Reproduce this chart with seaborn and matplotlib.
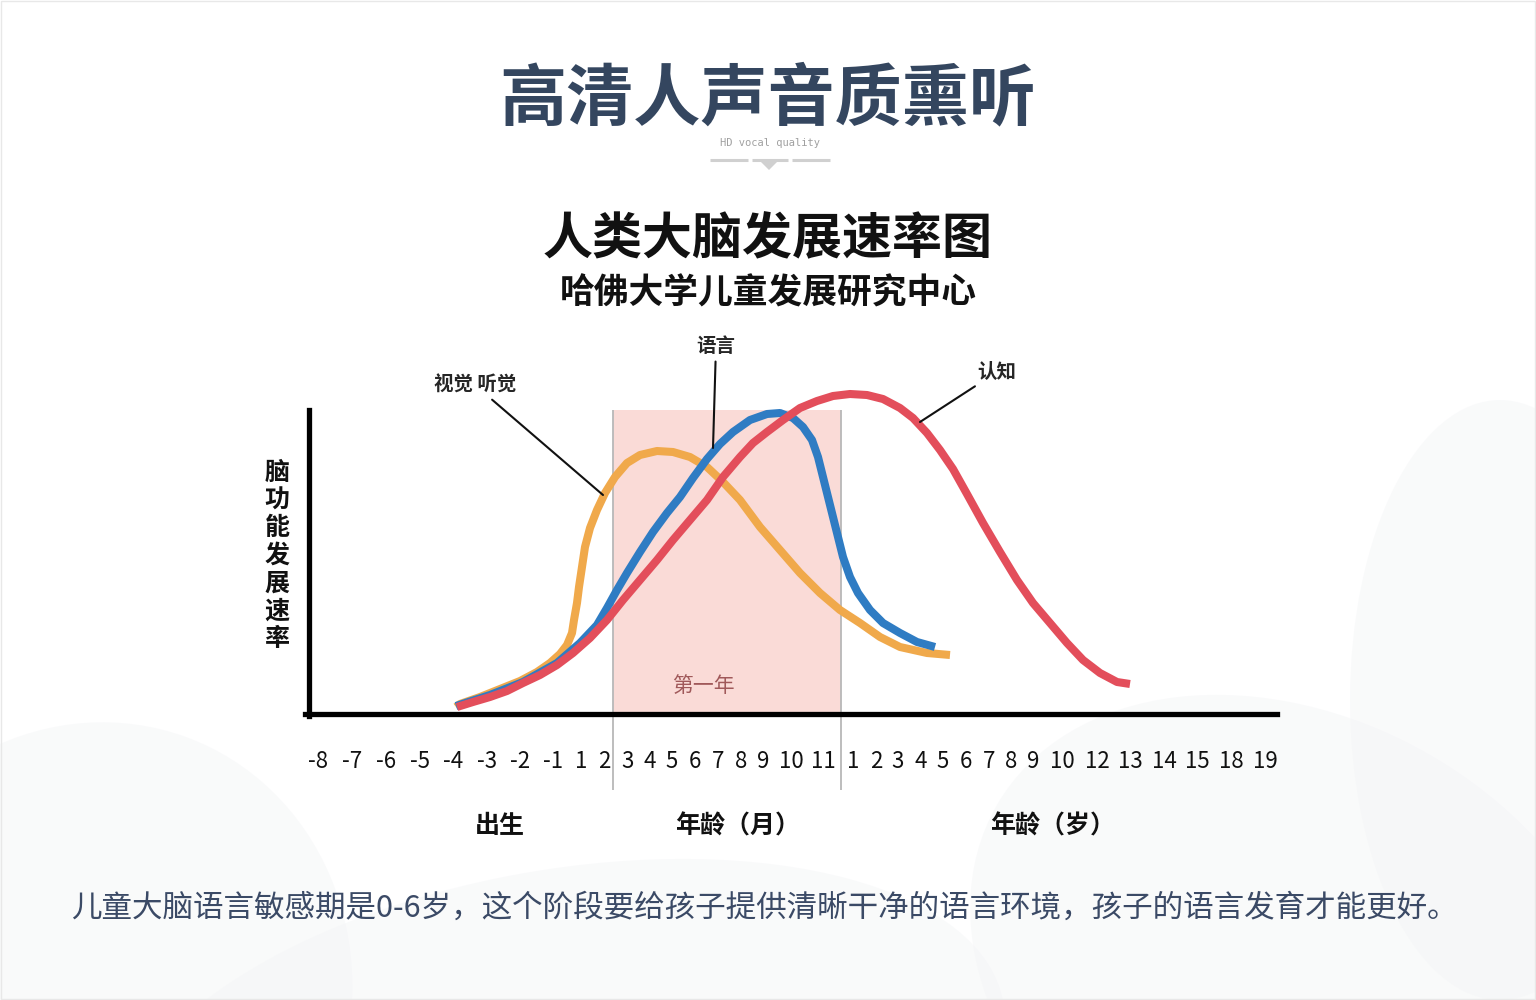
import numpy as np
import pandas as pd
import matplotlib.pyplot as plt
import seaborn as sns
from matplotlib.patches import Rectangle, Ellipse, Polygon

plt.switch_backend('Agg')

# 横轴刻度文字（出生前月份 / 第一年月份 / 年龄）
tick_labels = ['-8', '-7', '-6', '-5', '-4', '-3', '-2', '-1', '1', '2',
               '3', '4', '5', '6', '7', '8', '9', '10', '11',
               '1', '2', '3', '4', '5', '6', '7', '8', '9', '10',
               '12', '13', '14', '15', '18', '19']
tick_pos = [318, 352, 386, 420, 453, 487, 520, 553, 581, 604,
            627, 650, 672, 695, 718, 741, 763, 791, 823,
            853, 876, 898, 921, 943, 966, 989, 1011, 1033, 1062,
            1097, 1130, 1164, 1197, 1231, 1265]

# 三条曲线：横轴位置, 发展速率（相对高度）
vision_x = [456, 460, 480, 500, 520, 537, 550, 560, 567, 572, 574, 577, 579, 582, 585, 590,
            597, 605, 615, 627, 640, 657, 673, 690, 707, 723, 740, 760, 780, 800, 820, 840,
            860, 880, 900, 927, 950]
vision_y = [7, 10, 17, 25, 33, 42, 51, 60, 69, 81, 94, 111, 127, 147, 167, 186,
            204, 221, 237, 251, 259, 263, 262, 257, 247, 232, 214, 187, 164, 141, 121, 104,
            91, 77, 67, 61, 59]

language_x = [456, 490, 523, 557, 580, 597, 607, 617, 627, 640, 653, 667, 680, 693, 707, 720,
              733, 750, 767, 780, 793, 803, 812, 818, 823, 828, 833, 838, 843, 850, 858, 870,
              883, 900, 917, 935]
language_y = [8, 19, 32, 51, 71, 89, 106, 124, 141, 162, 182, 201, 217, 236, 255, 270,
              282, 294, 300, 301, 296, 287, 274, 257, 237, 217, 197, 177, 157, 137, 121, 104,
              91, 81, 72, 67]

cognition_x = [457, 473, 490, 507, 523, 540, 557, 573, 590, 607, 623, 640, 657, 673, 690, 707,
               723, 740, 753, 767, 783, 800, 817, 833, 850, 867, 883, 900, 913, 927, 940, 953,
               967, 983, 1000, 1017, 1033, 1050, 1067, 1083, 1100, 1117, 1130]
cognition_y = [7, 12, 17, 23, 31, 39, 49, 61, 76, 94, 114, 134, 154, 174, 194, 214,
               237, 257, 271, 282, 294, 306, 313, 318, 320, 319, 315, 306, 296, 281, 264, 245,
               220, 191, 162, 134, 111, 91, 71, 54, 41, 32, 30]

curve_names = ['视觉听觉', '语言', '认知']
curve_colors = ['#f0a94b', '#2f7cc3', '#e34e5b']

sns.set_theme(style='white')
plt.rcParams['font.family'] = ['Noto Sans CJK SC', 'DejaVu Sans']

W, H = 1536, 1000
AX_Y = 714  # 横轴所在像素行


def fx(px):
    return px / W


def fy(py):
    return 1 - py / H


def hy(py):
    # 像素行 -> 主图纵坐标
    return AX_Y - py


fig = plt.figure(figsize=(15.36, 10), dpi=100)
fig.patch.set_facecolor('white')

# 背景淡色弧形
bg = fig.add_axes([0, 0, 1, 1])
bg.set_xlim(0, W)
bg.set_ylim(H, 0)
bg.axis('off')
for (cx, cy, w, h, ang) in [(90, 1000, 520, 560, 20), (560, 1080, 900, 420, -10),
                            (1300, 980, 700, 520, 30), (1500, 700, 300, 600, 0)]:
    bg.add_patch(Ellipse((cx, cy), w, h, angle=ang, facecolor='#f3f4f6', edgecolor='none', alpha=0.45))
bg.add_patch(Rectangle((1, 1), W - 2, H - 2, fill=False, edgecolor='#e8e8e8', lw=1))

# 顶部标题区
fig.text(fx(768), fy(100), '高清人声音质熏听', ha='center', va='center', fontsize=48.3,
         fontweight='bold', color='#34465f')
fig.text(fx(770), fy(143), 'HD vocal quality', ha='center', va='center', fontsize=7.5,
         family='DejaVu Sans Mono', color='#a0a0a0')
for x0, x1 in [(710, 748), (752, 788), (792, 830)]:
    bg.plot([x0, x1], [160, 160], color='#d0d0d0', lw=2.2, solid_capstyle='butt')
bg.add_patch(Polygon([[760, 161], [778, 161], [769, 170]], closed=True,
                     facecolor='#d0d0d0', edgecolor='none'))

fig.text(fx(768), fy(240), '人类大脑发展速率图', ha='center', va='center', fontsize=36,
         fontweight='bold', color='#111111')
fig.text(fx(768), fy(293), '哈佛大学儿童发展研究中心', ha='center', va='center', fontsize=25,
         fontweight='bold', color='#111111')

# 主图
ax = fig.add_axes([fx(305), fy(AX_Y), (1277 - 305) / W, (AX_Y - 370) / H])
ax.set_xlim(305, 1277)
ax.set_ylim(0, hy(370))
ax.patch.set_alpha(0)

ax.add_patch(Rectangle((613, 0), 841 - 613, hy(410), facecolor='#fadbd7', edgecolor='none', zorder=0))
ax.vlines([613, 841], hy(790), hy(410), color='#b8b8b8', lw=1.3, clip_on=False, zorder=1)

df = pd.concat([
    pd.DataFrame({'pos': vision_x, 'rate': vision_y, 'curve': curve_names[0]}),
    pd.DataFrame({'pos': language_x, 'rate': language_y, 'curve': curve_names[1]}),
    pd.DataFrame({'pos': cognition_x, 'rate': cognition_y, 'curve': curve_names[2]}),
])
sns.lineplot(data=df, x='pos', y='rate', hue='curve', hue_order=curve_names,
             palette=curve_colors, sort=False, estimator=None, linewidth=5.8,
             legend=False, ax=ax, zorder=3)
for ln in ax.lines:
    ln.set_solid_capstyle('butt')
    ln.set_solid_joinstyle('round')

for sp in ['top', 'right']:
    ax.spines[sp].set_visible(False)
ax.spines['left'].set_position(('data', 309))
ax.spines['left'].set_bounds(-2, hy(410))
ax.spines['bottom'].set_bounds(305, 1277)
for sp in ['left', 'bottom']:
    ax.spines[sp].set_linewidth(3.8)
    ax.spines[sp].set_color('black')
    ax.spines[sp].set_zorder(4)

ax.set_xticks(tick_pos)
ax.set_xticklabels(tick_labels)
ax.set_yticks([])
ax.tick_params(axis='x', length=0, pad=26, labelsize=16, labelcolor='#111111')
ax.set_xlabel('')
ax.set_ylabel('')

ax.text(703, hy(686), '第一年', ha='center', va='center', fontsize=15, color='#a0595a', zorder=2)

# 曲线标注
arrow = dict(arrowstyle='-', color='#111111', lw=1.5, shrinkA=2, shrinkB=0)
ax.annotate('视觉 听觉', xy=(603, 219), xytext=(475, hy(385)), ha='center', va='center',
            fontsize=14, fontweight='bold', arrowprops=arrow, annotation_clip=False)
ax.annotate('语言', xy=(713, 266), xytext=(716, hy(346)), ha='center', va='center',
            fontsize=14, fontweight='bold', arrowprops=arrow, annotation_clip=False)
ax.annotate('认知', xy=(920, 292), xytext=(997, hy(372)), ha='center', va='center',
            fontsize=14, fontweight='bold', arrowprops=arrow, annotation_clip=False)

# 纵轴标题（竖排）
fig.text(fx(277), fy(556), '\n'.join('脑功能发展速率'), ha='center', va='center', fontsize=18,
         fontweight='bold', color='#111111', linespacing=1.19)

# 横轴分组标题
for x, s in [(500, '出生'), (738, '年龄（月）'), (1053, '年龄（岁）')]:
    fig.text(fx(x), fy(826), s, ha='center', va='center', fontsize=18, fontweight='bold',
             color='#111111')

fig.text(fx(764), fy(908), '儿童大脑语言敏感期是0-6岁，这个阶段要给孩子提供清晰干净的语言环境，孩子的语言发育才能更好。',
         ha='center', va='center', fontsize=22, color='#3b4a66')

fig.savefig('out.png', dpi=100)
